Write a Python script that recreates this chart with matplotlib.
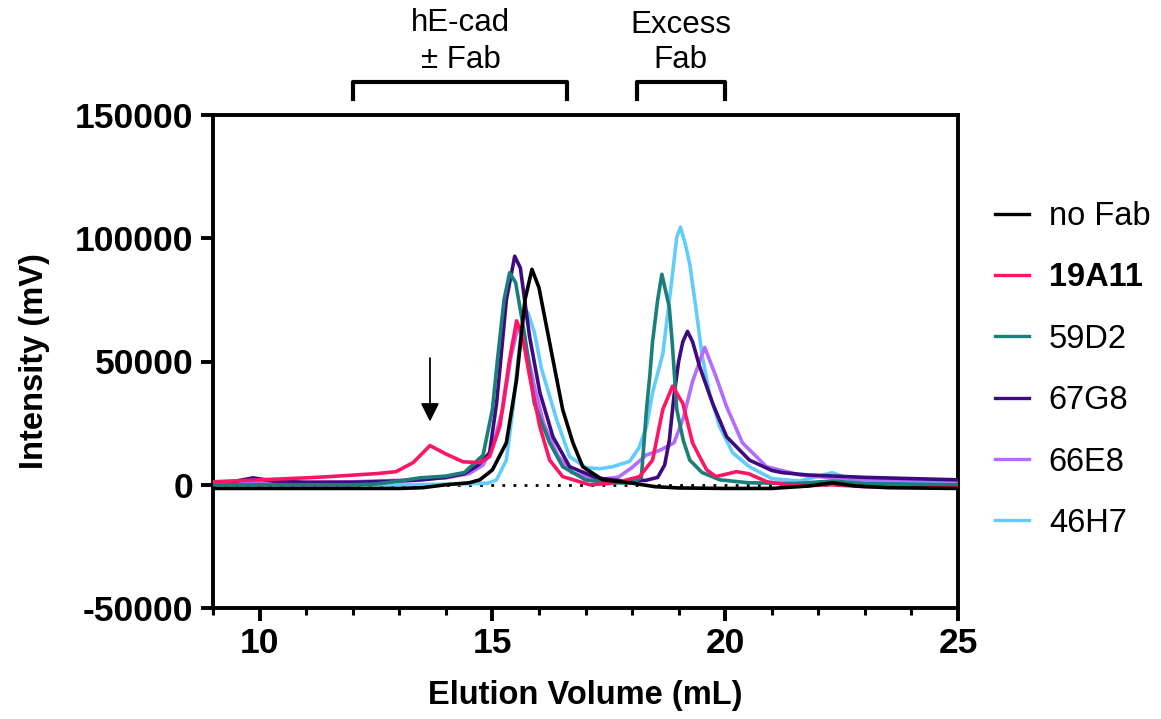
import numpy as np
import matplotlib
matplotlib.use("Agg")
import matplotlib.pyplot as plt
from matplotlib.ticker import MultipleLocator

plt.rcParams['font.family'] = ['Liberation Sans', 'DejaVu Sans']
plt.rcParams['axes.unicode_minus'] = False

# ---- traces (elution volume mL, intensity mV) ----
nofab_x = [9, 10, 11, 12, 13, 13.5, 14, 14.5, 14.73, 15.0, 15.3, 15.52, 15.7, 15.85, 16.0,
           16.3, 16.51, 16.73, 16.94, 17.37, 17.95, 18.5, 19, 20, 21, 21.8, 22.3, 22.8, 23.5, 25]
nofab_y = [-1500, -1500, -1500, -1500, -1500, -1200, 0, 800, 2000, 6000, 17000, 42700, 75000, 87400, 80000,
           50800, 30500, 17000, 7300, 2000, 800, -800, -1300, -1500, -1500, -500, 800, -500, -1200, -1500]

a19_x = [9, 10, 11, 11.5, 12.5, 12.93, 13.3, 13.66, 14.0, 14.37, 14.73, 14.94, 15.16, 15.37, 15.52,
         15.65, 15.8, 16.02, 16.23, 16.51, 17.09, 17.5, 17.8, 18.16, 18.44, 18.66, 18.87, 19.09, 19.3,
         19.45, 19.6, 19.8, 20.0, 20.24, 20.5, 20.9, 21.5, 22.3, 23, 25]
a19_y = [1200, 2000, 2800, 3300, 4500, 5300, 9000, 15900, 12500, 9300, 9000, 11400, 23600, 50800, 66500,
         60000, 44000, 23600, 10000, 3300, 0, 500, 1500, 3300, 10000, 30500, 40000, 33000, 17000,
         11400, 6100, 3300, 4200, 5300, 4500, 1200, -500, 0, -800, -1200]

d59_x = [9, 10, 11, 12, 12.5, 13, 13.44, 14, 14.4, 14.8, 15.0, 15.11, 15.25, 15.37, 15.5, 15.7, 15.9,
         16.23, 16.51, 17.0, 17.5, 18.0, 18.2, 18.31, 18.38, 18.44, 18.55, 18.64, 18.8, 18.87, 18.96,
         19.1, 19.24, 19.5, 19.88, 20.5, 21.5, 22.3, 23, 25]
d59_y = [0, 0, 0, 0, 300, 1500, 2800, 3500, 5000, 12000, 30500, 50800, 75000, 86000, 82000, 60000, 33000,
         17000, 7300, 2000, 800, 700, 3000, 30500, 44000, 58000, 75000, 85400, 72000, 55700, 30500,
         18000, 10000, 5000, 2000, 800, 500, 1500, 500, 0]

g67_x = [9, 9.5, 9.86, 10.3, 11, 12, 13, 13.5, 14, 14.4, 14.7, 14.94, 15.09, 15.16, 15.3, 15.48, 15.6,
         15.8, 16.02, 16.3, 16.66, 17.24, 17.8, 18.3, 18.55, 18.7, 18.8, 18.9, 19.0, 19.09, 19.19, 19.3,
         19.45, 19.73, 20.03, 20.52, 21.0, 21.23, 21.75, 23, 25]
g67_y = [500, 1500, 2800, 1500, 1000, 1000, 1500, 2000, 3000, 4500, 8000, 13000, 33000, 46700, 75000, 92700, 88000,
         60000, 37400, 19500, 7300, 2800, 1500, 1800, 3000, 8000, 18000, 36000, 50000, 58000, 62200, 58000,
         48000, 33000, 19500, 10000, 5800, 4900, 4000, 3000, 2000]

e66_x = [9, 10, 11, 12, 13, 14, 14.5, 14.8, 15.0, 15.22, 15.4, 15.55, 15.7, 15.9, 16.1, 16.4, 16.7,
         17.2, 17.7, 18.0, 18.3, 18.6, 18.9, 19.1, 19.3, 19.56, 19.8, 20.03, 20.37, 20.89, 21.6, 22.5,
         23.2, 25]
e66_y = [500, 800, 1000, 1200, 1800, 2800, 4500, 8000, 15000, 30500, 52000, 64000, 58000, 40000, 25000, 12000, 5000,
         2000, 3000, 7000, 12000, 14000, 17000, 27000, 42000, 55700, 44000, 31700, 17000, 7300, 4000, 2500,
         2000, 1500]

h46_x = [9, 10, 11, 12, 13, 14, 14.5, 14.9, 15.09, 15.3, 15.44, 15.55, 15.65, 15.76, 15.9, 16.06, 16.38,
         16.66, 17.02, 17.3, 17.58, 17.95, 18.15, 18.31, 18.44, 18.66, 18.85, 18.96, 19.04, 19.14, 19.24,
         19.39, 19.5, 19.66, 19.88, 20.16, 20.52, 21.0, 21.6, 22.3, 22.8, 25]
h46_y = [0, 0, 0, 0, 0, 200, 400, 600, 2000, 10000, 30500, 50800, 66000, 70000, 62000, 46700, 26400,
         11400, 6900, 6500, 7300, 9500, 15000, 23600, 37400, 53000, 82500, 100400, 104500, 98000, 89400,
         69100, 52800, 37400, 23600, 13000, 7300, 2500, 1500, 4900, 1500, 0]

labels = ["no Fab", "19A11", "59D2", "67G8", "66E8", "46H7"]
colors = ["#000000", "#ff1466", "#1a7f7a", "#3f0a80", "#b46cff", "#62cdfb"]
traces = [(nofab_x, nofab_y), (a19_x, a19_y), (d59_x, d59_y),
          (g67_x, g67_y), (e66_x, e66_y), (h46_x, h46_y)]

fig = plt.figure(figsize=(11.61, 7.19), dpi=100)
ax = fig.add_axes([213/1161, 111/719, 745/1161, 493/719])

ax.axhline(0, color="black", lw=2, ls=(0, (1, 3)), zorder=1)
z = [9, 8, 7, 6, 5, 4]
for (xs, ys), lab, c, zz in zip(traces, labels, colors, z):
    ax.plot(xs, ys, color=c, lw=2.6, label=lab, zorder=zz)

ax.set_xlim(9, 25)
ax.set_ylim(-50000, 150000)
ax.xaxis.set_major_locator(MultipleLocator(5))
ax.xaxis.set_minor_locator(MultipleLocator(1))
ax.yaxis.set_major_locator(MultipleLocator(50000))
for s in ["top", "right", "left", "bottom"]:
    ax.spines[s].set_linewidth(2.8)
ax.tick_params(which="major", length=9, width=2.8, labelsize=25.5, pad=5)
ax.tick_params(which="minor", length=5, width=2.2)
for t in ax.get_xticklabels() + ax.get_yticklabels():
    t.set_fontweight("bold")
ax.set_xlabel("Elution Volume (mL)", fontsize=23.5, fontweight="bold", labelpad=14)
ax.set_ylabel("Intensity (mV)", fontsize=23.5, fontweight="bold", labelpad=18)

# brackets and labels above the plot
ax.plot([12, 12, 16.6, 16.6], [156500, 163400, 163400, 156500], color="black", lw=3, clip_on=False)
ax.plot([18.1, 18.1, 20.0, 20.0], [156500, 163400, 163400, 156500], color="black", lw=3, clip_on=False)
ax.text(14.32, 187500, "hE-cad", ha="center", va="center", fontsize=22.5)
ax.text(14.32, 172500, "\u00b1 Fab", ha="center", va="center", fontsize=22.5)
ax.text(19.04, 186500, "Excess", ha="center", va="center", fontsize=22.5)
ax.text(19.04, 172500, "Fab", ha="center", va="center", fontsize=22.5)

# arrow over the 19A11 shoulder
ax.annotate("", xy=(13.66, 24500), xytext=(13.66, 52500),
            arrowprops=dict(arrowstyle="-|>", color="black", lw=1.3, mutation_scale=28))

leg = ax.legend(loc="center left", bbox_to_anchor=(995/1161, 1 - 370/719),
                bbox_transform=fig.transFigure, frameon=False, fontsize=23.5,
                handlelength=1.05, handletextpad=0.6, labelspacing=0.93,
                borderpad=0, borderaxespad=0)
for line in leg.get_lines():
    line.set_linewidth(2.4)
leg.get_texts()[1].set_fontweight("bold")

fig.savefig("out.png", dpi=100)
